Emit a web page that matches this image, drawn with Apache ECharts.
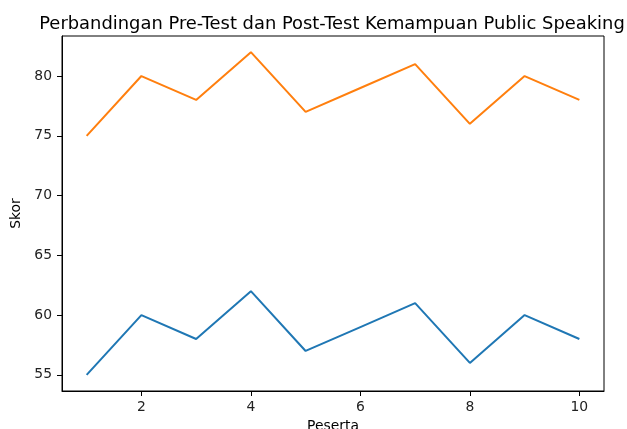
<!DOCTYPE html>
<html>
<head>
<meta charset="utf-8">
<script src="https://cdn.jsdelivr.net/npm/echarts@6/dist/echarts.min.js"></script>
<style>
	html, body { margin: 0; padding: 0; background: #fff; }
	#chart { width: 627px; height: 429px; }
</style>
</head>
<body>
<div id="chart"></div>
<script>
	// data
	var peserta = [1, 2, 3, 4, 5, 6, 7, 8, 9, 10];
	var preTest = [55, 60, 58, 62, 57, 59, 61, 56, 60, 58];
	var postTest = [75, 80, 78, 82, 77, 79, 81, 76, 80, 78];
	var xTicks = [2, 4, 6, 8, 10];
	var yTicks = [55, 60, 65, 70, 75, 80];

	function pairs(xs, ys) {
		return xs.map(function(x, i) {
			return [x, ys[i]];
		});
	}

	var chart = echarts.init(document.getElementById('chart'));
	var font = 'DejaVu Sans';

	var option = {
		animation: false,
		title: {
			text: 'Perbandingan Pre-Test dan Post-Test Kemampuan Public Speaking',
			left: 327,
			top: 10,
			textAlign: 'center',
			textStyle: { fontFamily: font, fontSize: 17.9, fontWeight: 'normal', color: '#000' }
		},
		grid: {
			show: true,
			left: 62,
			right: 23,
			top: 36,
			bottom: 38,
			outerBoundsMode: 'none',
			containLabel: false,
			borderColor: '#000',
			borderWidth: 1,
			backgroundColor: '#fff'
		},
		xAxis: {
			type: 'value',
			min: 0.55,
			max: 10.45,
			name: 'Peserta',
			nameLocation: 'middle',
			nameGap: 26,
			nameTextStyle: { fontFamily: font, fontSize: 13.9, color: '#000' },
			splitLine: { show: false },
			axisLine: { show: true, lineStyle: { color: '#000', width: 1 } },
			axisTick: { show: true, length: 5, customValues: xTicks, lineStyle: { color: '#000' } },
			axisLabel: { customValues: xTicks, fontFamily: font, fontSize: 13.9, color: '#222', margin: 9 }
		},
		yAxis: {
			type: 'value',
			min: 53.65,
			max: 83.35,
			name: 'Skor',
			nameLocation: 'middle',
			nameGap: 31,
			nameTextStyle: { fontFamily: font, fontSize: 13.9, color: '#000' },
			splitLine: { show: false },
			axisLine: { show: true, lineStyle: { color: '#000', width: 1 } },
			axisTick: { show: true, length: 5, customValues: yTicks, lineStyle: { color: '#000' } },
			axisLabel: { customValues: yTicks, fontFamily: font, fontSize: 13.9, color: '#222', margin: 10 }
		},
		series: [{
			name: 'Pre-Test',
			type: 'line',
			showSymbol: false,
			data: pairs(peserta, preTest),
			lineStyle: { color: '#1f77b4', width: 2 },
			itemStyle: { color: '#1f77b4' }
		}, {
			name: 'Post-Test',
			type: 'line',
			showSymbol: false,
			data: pairs(peserta, postTest),
			lineStyle: { color: '#ff7f0e', width: 2 },
			itemStyle: { color: '#ff7f0e' }
		}]
	};
	chart.setOption(option);
</script>
</body>
</html>
